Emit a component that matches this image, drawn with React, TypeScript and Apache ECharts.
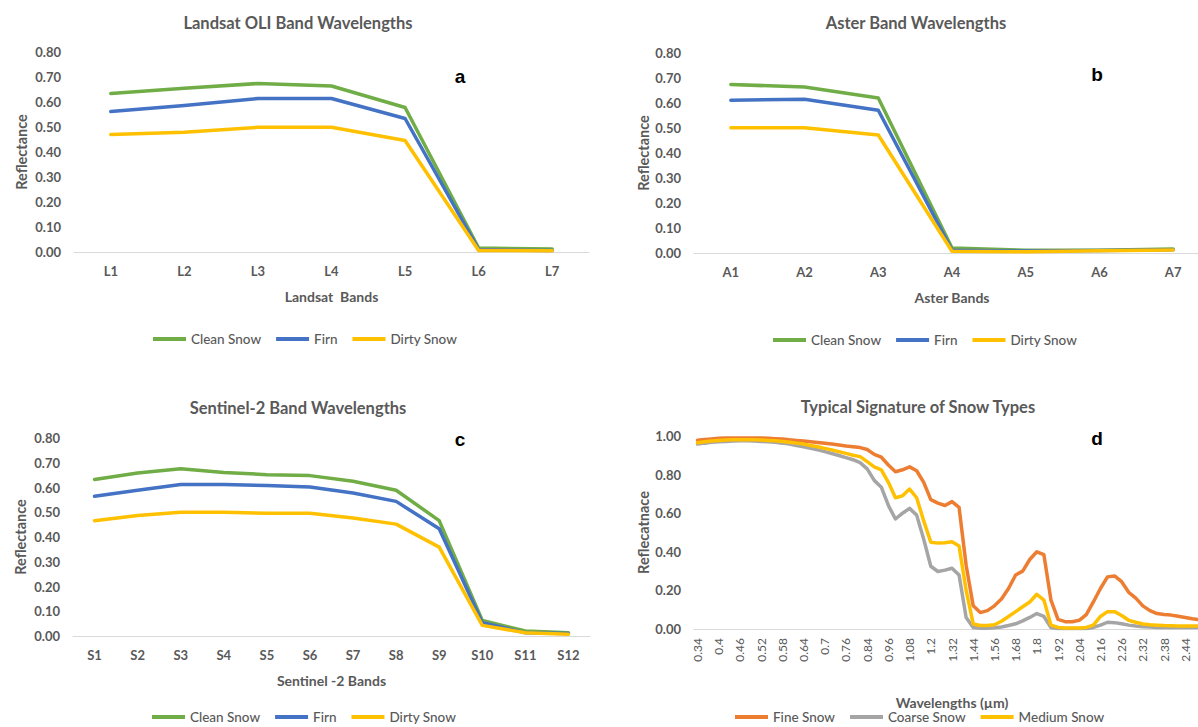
import React, { useEffect, useRef } from "react";
import * as echarts from "echarts";

// ---------- Panel a: Landsat OLI ----------
const LANDSAT_BANDS = ["L1", "L2", "L3", "L4", "L5", "L6", "L7"];
const LANDSAT_CLEAN = [0.634, 0.655, 0.674, 0.664, 0.578, 0.016, 0.012];
const LANDSAT_FIRN = [0.562, 0.586, 0.614, 0.614, 0.534, 0.01, 0.006];
const LANDSAT_DIRTY = [0.47, 0.479, 0.499, 0.499, 0.446, 0.006, 0.005];

// ---------- Panel b: Aster ----------
const ASTER_BANDS = ["A1", "A2", "A3", "A4", "A5", "A6", "A7"];
const ASTER_CLEAN = [0.674, 0.664, 0.62, 0.02, 0.011, 0.011, 0.016];
const ASTER_FIRN = [0.611, 0.615, 0.571, 0.011, 0.008, 0.01, 0.013];
const ASTER_DIRTY = [0.501, 0.501, 0.472, 0.007, 0.005, 0.009, 0.012];

// ---------- Panel c: Sentinel-2 ----------
const SENTINEL_BANDS = ["S1", "S2", "S3", "S4", "S5", "S6", "S7", "S8", "S9", "S10", "S11", "S12"];
const SENTINEL_CLEAN = [0.632, 0.659, 0.676, 0.661, 0.652, 0.648, 0.625, 0.589, 0.466, 0.063, 0.02, 0.013];
const SENTINEL_FIRN = [0.565, 0.589, 0.612, 0.612, 0.608, 0.602, 0.578, 0.544, 0.433, 0.054, 0.013, 0.01];
const SENTINEL_DIRTY = [0.466, 0.487, 0.5, 0.5, 0.496, 0.496, 0.477, 0.452, 0.359, 0.043, 0.013, 0.007];

// ---------- Panel d: Typical signature of snow types ----------
const WAVELENGTHS = [
  "0.34", "0.36", "0.38", "0.4", "0.42", "0.44", "0.46", "0.48", "0.5", "0.52",
  "0.54", "0.56", "0.58", "0.6", "0.62", "0.64", "0.66", "0.68", "0.7", "0.72",
  "0.74", "0.76", "0.78", "0.81", "0.84", "0.88", "0.92", "0.96", "1", "1.04",
  "1.08", "1.12", "1.16", "1.2", "1.24", "1.28", "1.32", "1.36", "1.4", "1.44",
  "1.48", "1.52", "1.56", "1.6", "1.64", "1.68", "1.72", "1.76", "1.8", "1.84",
  "1.88", "1.92", "1.96", "2", "2.04", "2.08", "2.12", "2.16", "2.19", "2.23",
  "2.26", "2.28", "2.3", "2.32", "2.34", "2.36", "2.38", "2.4", "2.42", "2.44",
  "2.46", "2.48", "2.5",
];
const FINE_SNOW = [
  0.978, 0.982, 0.985, 0.988, 0.99, 0.99, 0.99, 0.99, 0.99, 0.99,
  0.988, 0.986, 0.984, 0.98, 0.977, 0.974, 0.97, 0.966, 0.962, 0.958,
  0.953, 0.948, 0.944, 0.94, 0.93, 0.905, 0.89, 0.85, 0.815, 0.825,
  0.84, 0.82, 0.76, 0.67, 0.652, 0.64, 0.66, 0.63, 0.33, 0.12,
  0.085, 0.095, 0.12, 0.155, 0.21, 0.28, 0.3, 0.36, 0.4, 0.385,
  0.15, 0.05, 0.038, 0.038, 0.045, 0.075, 0.14, 0.21, 0.27, 0.275,
  0.245, 0.19, 0.16, 0.12, 0.095, 0.08, 0.075, 0.072, 0.066, 0.06,
  0.053, 0.048, 0.043,
];
const COARSE_SNOW = [
  0.958, 0.963, 0.967, 0.97, 0.972, 0.974, 0.975, 0.975, 0.974, 0.972,
  0.97, 0.967, 0.963, 0.958, 0.951, 0.944, 0.936, 0.928, 0.919, 0.909,
  0.899, 0.888, 0.877, 0.862, 0.83, 0.77, 0.735, 0.64, 0.57, 0.6,
  0.625, 0.59, 0.465, 0.325, 0.298, 0.305, 0.315, 0.28, 0.06, 0.008,
  0.004, 0.004, 0.006, 0.01, 0.018, 0.027, 0.042, 0.06, 0.08, 0.065,
  0.008, 0.002, 0.002, 0.002, 0.002, 0.002, 0.008, 0.02, 0.035, 0.033,
  0.027, 0.02, 0.015, 0.012, 0.01, 0.008, 0.008, 0.008, 0.008, 0.008,
  0.008, 0.008, 0.008,
];
const MEDIUM_SNOW = [
  0.965, 0.97, 0.974, 0.977, 0.979, 0.98, 0.98, 0.98, 0.98, 0.979,
  0.977, 0.975, 0.972, 0.968, 0.963, 0.958, 0.951, 0.944, 0.936, 0.928,
  0.919, 0.91, 0.9, 0.893, 0.867, 0.84, 0.825, 0.76, 0.68, 0.69,
  0.725, 0.68, 0.56, 0.45, 0.445, 0.447, 0.452, 0.43, 0.2, 0.026,
  0.018, 0.018, 0.022, 0.04, 0.065, 0.09, 0.115, 0.14, 0.18, 0.15,
  0.02, 0.008, 0.005, 0.005, 0.005, 0.008, 0.02, 0.065, 0.09, 0.09,
  0.07, 0.045, 0.035, 0.026, 0.022, 0.02, 0.018, 0.017, 0.016, 0.016,
  0.015, 0.015, 0.015,
];

const TITLES = [
  "Landsat OLI Band Wavelengths",
  "Aster Band Wavelengths",
  "Sentinel-2 Band Wavelengths",
  "Typical Signature of Snow Types",
];
const PANEL_LETTERS = ["a", "b", "c", "d"];
const X_NAMES = ["Landsat  Bands", "Aster Bands", "Sentinel -2 Bands", "Wavelengths (µm)"];
const Y_NAMES = ["Reflectance", "Reflectance", "Reflectance", "Reflecatnace"];
const BAND_SERIES = ["Clean Snow", "Firn", "Dirty Snow"];
const SNOW_SERIES = ["Fine Snow", "Coarse Snow", "Medium Snow"];

const GREEN = "#70AD47";
const BLUE = "#4472C4";
const YELLOW = "#FFC000";
const ORANGE = "#ED7D31";
const GREY = "#A5A5A5";
const TEXT = "#595959";
const FONT = "Lato, 'Open Sans', sans-serif";

function line(name: string, data: number[], color: string, idx: number) {
  return {
    type: "line",
    name,
    data,
    xAxisIndex: idx,
    yAxisIndex: idx,
    showSymbol: false,
    symbol: "none",
    color,
    lineStyle: { color, width: 3.5, cap: "round", join: "round" },
    emphasis: { disabled: true },
  };
}

export default function App() {
  const ref = useRef<HTMLDivElement>(null);

  useEffect(() => {
    if (!ref.current) return;
    const chart = echarts.init(ref.current, undefined, { renderer: "svg" });

    const grids = [
      { left: 74, top: 52, width: 515, height: 200 },
      { left: 694, top: 53, width: 516, height: 200 },
      { left: 73, top: 438, width: 517, height: 198 },
      { left: 694, top: 436, width: 516, height: 193 },
    ];
    const cats = [LANDSAT_BANDS, ASTER_BANDS, SENTINEL_BANDS, WAVELENGTHS];
    const yNameGaps = [45, 43, 45, 43];
    const lastIdx = WAVELENGTHS.length - 1;

    const xAxis = cats.map((c, i) => ({
      type: "category",
      gridIndex: i,
      data: c,
      boundaryGap: true,
      axisLine: { show: true, lineStyle: { color: "#D9D9D9", width: 1 } },
      axisTick: { show: false },
      splitLine: { show: false },
      axisLabel:
        i === 3
          ? {
              interval: (idx: number) => idx % 3 === 0 && idx < lastIdx,
              rotate: 90,
              margin: 9,
              color: TEXT,
              fontSize: 12,
              fontFamily: FONT,
            }
          : { interval: 0, margin: 12, color: TEXT, fontSize: 13, fontWeight: "bold", fontFamily: FONT },
      name: X_NAMES[i],
      nameLocation: "middle",
      nameGap: i === 3 ? 66 : 37,
      nameTextStyle: { color: TEXT, fontSize: 14, fontWeight: "bold", fontFamily: FONT, verticalAlign: "top" },
    }));

    const yAxis = [0, 1, 2, 3].map((i) => ({
      type: "value",
      gridIndex: i,
      min: 0,
      max: i === 3 ? 1 : 0.8,
      interval: i === 3 ? 0.2 : 0.1,
      axisLine: { show: false },
      axisTick: { show: false },
      splitLine: { show: false },
      axisLabel: {
        margin: 13,
        color: TEXT,
        fontSize: 13,
        fontWeight: "bold",
        fontFamily: FONT,
        formatter: (v: number) => v.toFixed(2),
      },
      name: Y_NAMES[i],
      nameLocation: "middle",
      nameRotate: 90,
      nameGap: yNameGaps[i],
      nameTextStyle: { color: TEXT, fontSize: 14.5, fontWeight: "bold", fontFamily: FONT },
    }));

    const series = [
      line(BAND_SERIES[0], LANDSAT_CLEAN, GREEN, 0),
      line(BAND_SERIES[1], LANDSAT_FIRN, BLUE, 0),
      line(BAND_SERIES[2], LANDSAT_DIRTY, YELLOW, 0),
      line(BAND_SERIES[0], ASTER_CLEAN, GREEN, 1),
      line(BAND_SERIES[1], ASTER_FIRN, BLUE, 1),
      line(BAND_SERIES[2], ASTER_DIRTY, YELLOW, 1),
      line(BAND_SERIES[0], SENTINEL_CLEAN, GREEN, 2),
      line(BAND_SERIES[1], SENTINEL_FIRN, BLUE, 2),
      line(BAND_SERIES[2], SENTINEL_DIRTY, YELLOW, 2),
      line(SNOW_SERIES[0], FINE_SNOW, ORANGE, 3),
      line(SNOW_SERIES[1], COARSE_SNOW, GREY, 3),
      line(SNOW_SERIES[2], MEDIUM_SNOW, YELLOW, 3),
    ];

    const legendBase = {
      icon: "rect",
      itemWidth: 33,
      itemHeight: 4,
      itemGap: 15,
      itemTextGap: 1,
      selectedMode: false,
      textStyle: { color: TEXT, fontSize: 13.5, fontWeight: 500, fontFamily: FONT },
    };
    const legend = [
      { ...legendBase, left: 148, top: 327, data: BAND_SERIES },
      { ...legendBase, left: 768, top: 328, data: BAND_SERIES },
      { ...legendBase, left: 147, top: 705, data: BAND_SERIES },
      { ...legendBase, left: 730, top: 705, data: SNOW_SERIES },
    ];

    const titlePos = [
      [298, 23],
      [916, 23],
      [298, 408],
      [918, 407],
    ];
    const letterPos = [
      [460, 76],
      [1097, 74],
      [460, 439],
      [1097, 438],
    ];
    const graphic: any[] = [];
    TITLES.forEach((t, i) => {
      graphic.push({
        type: "text",
        x: titlePos[i][0],
        y: titlePos[i][1],
        silent: true,
        style: {
          text: t,
          fill: TEXT,
          font: `bold 16.5px ${FONT}`,
          textAlign: "center",
          textVerticalAlign: "middle",
        },
      });
    });
    PANEL_LETTERS.forEach((t, i) => {
      graphic.push({
        type: "text",
        x: letterPos[i][0],
        y: letterPos[i][1],
        silent: true,
        style: {
          text: t,
          fill: "#000000",
          font: `bold 19px Arial, 'Liberation Sans', sans-serif`,
          textAlign: "center",
          textVerticalAlign: "middle",
        },
      });
    });

    chart.setOption({
      animation: false,
      backgroundColor: "#ffffff",
      textStyle: { fontFamily: FONT },
      grid: grids.map((g) => ({ ...g, containLabel: false, outerBoundsMode: "none" })),
      xAxis,
      yAxis,
      series,
      legend,
      graphic,
    });

    return () => chart.dispose();
  }, []);

  return (
    <div
      ref={ref}
      style={{ position: "fixed", left: 0, top: 0, width: 1198, height: 727, background: "#fff" }}
    />
  );
}
